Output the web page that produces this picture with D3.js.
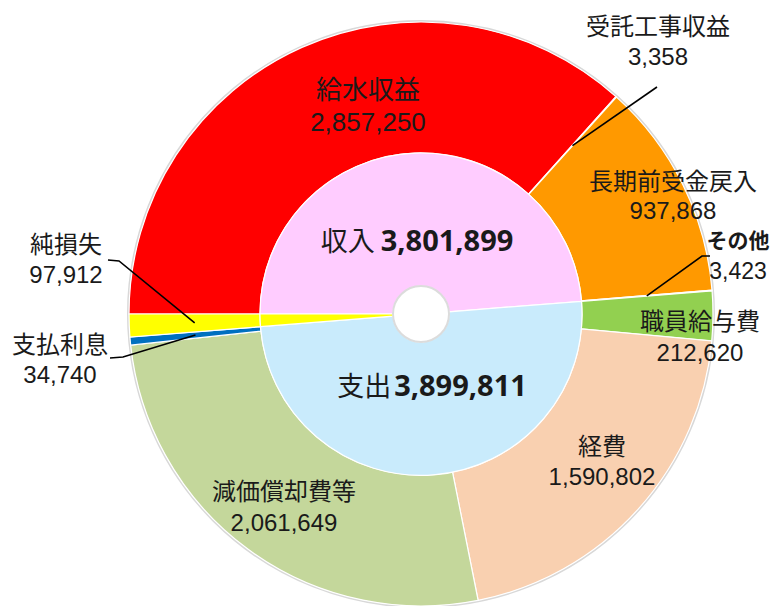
<!DOCTYPE html>
<html>
<head>
<meta charset="utf-8">
<script src="https://cdn.jsdelivr.net/npm/d3@7"></script>
<style>
  body { margin: 0; background: #fff; }
  text { font-family: "Liberation Sans", Arial, "Noto Sans CJK JP", sans-serif; fill: #1a1a1a; }
</style>
</head>
<body>
<script>
// 収支 doughnut: outer ring = details, inner ring = totals

// outer ring (clockwise from 9 o'clock)
var outerNames  = ["給水収益", "受託工事収益", "長期前受金戻入", "その他", "職員給与費", "経費", "減価償却費等", "支払利息", "純損失"];
var outerValues = [2857250, 3358, 937868, 3423, 212620, 1590802, 2061649, 34740, 97912];
var outerColors = ["#ff0000", "#ff9900", "#ff9900", "#ff9900", "#92d050", "#f9d0b0", "#c4d79b", "#0070c0", "#ffff00"];

// inner ring
var innerNames  = ["収入", "支出", "純損失"];
var innerValues = [3801899, 3899811, 97912];
var innerColors = ["#ffccff", "#c9ebfc", "#ffff00"];

var width = 779, height = 606;
var cx = 421, cy = 314;
var rHole = 28, rMid = 161, rOut = 292;

var fmt = d3.format(",");

var svg = d3.select("body").append("svg")
    .attr("width", width)
    .attr("height", height);

var g = svg.append("g")
    .attr("transform", "translate(" + cx + "," + cy + ")");

var pie = d3.pie()
    .sort(null)
    .value(function(d) { return d; })
    .startAngle(-Math.PI / 2)
    .endAngle(Math.PI * 1.5);

var outerArc = d3.arc().innerRadius(rMid).outerRadius(rOut);
var innerArc = d3.arc().innerRadius(rHole).outerRadius(rMid);

var outerPie = pie(outerValues);
var innerPie = pie(innerValues);

// faint shadow ring
g.append("circle")
    .attr("r", rOut + 1)
    .attr("fill", "none")
    .attr("stroke", "#d8d8d8")
    .attr("stroke-width", 2);

g.selectAll(".outer")
    .data(outerPie)
    .enter().append("path")
    .attr("class", "outer")
    .attr("d", outerArc)
    .attr("fill", function(d, i) { return outerColors[i]; })
    .attr("stroke", "#fff")
    .attr("stroke-width", 1.2);

g.selectAll(".inner")
    .data(innerPie)
    .enter().append("path")
    .attr("class", "inner")
    .attr("d", innerArc)
    .attr("fill", function(d, i) { return innerColors[i]; })
    .attr("stroke", "#fff")
    .attr("stroke-width", 1.2);

// hole edge
g.append("circle")
    .attr("r", rHole)
    .attr("fill", "#fff")
    .attr("stroke", "#dcdcdc")
    .attr("stroke-width", 2);

// label layout for outer ring (label centre, font size)
var labelPos = {
    "給水収益":     {x: 368, y: 90,  size: 26, gap: 32},
    "受託工事収益": {x: 658, y: 27,  size: 24, gap: 30},
    "長期前受金戻入": {x: 673, y: 182, size: 24, gap: 29},
    "その他":       {x: 738, y: 241, size: 21, gap: 30},
    "職員給与費":   {x: 700, y: 322, size: 24, gap: 31},
    "経費":         {x: 602, y: 447, size: 24, gap: 30},
    "減価償却費等": {x: 284, y: 492, size: 24, gap: 31},
    "支払利息":     {x: 60,  y: 345, size: 24, gap: 30},
    "純損失":       {x: 66,  y: 245, size: 24, gap: 30}
};

outerNames.forEach(function(name, i) {
    var p = labelPos[name];
    var t = svg.append("text")
        .attr("text-anchor", "middle")
        .style("font-size", p.size + "px");
    t.append("tspan")
        .attr("x", p.x)
        .attr("y", p.y)
        .attr("dy", "0.35em")
        .style("font-weight", name == "その他" ? "bold" : "normal")
        .text(name);
    t.append("tspan")
        .attr("x", p.x)
        .attr("y", p.y + p.gap)
        .attr("dy", "0.35em")
        .style("font-size", name == "その他" ? "23px" : null)
        .text(fmt(outerValues[i]));
});

// leader lines for thin slices, ending at the slice centroid
var leaderStart = {
    "受託工事収益": [[657, 87]],
    "その他":       [[710, 256], [702, 256]],
    "純損失":       [[108, 260], [119, 261]],
    "支払利息":     [[110, 358], [123, 357]]
};

outerNames.forEach(function(name, i) {
    if (!leaderStart[name]) return;
    var c = outerArc.centroid(outerPie[i]);
    var pts = leaderStart[name].concat([[cx + c[0], cy + c[1]]]);
    svg.append("path")
        .attr("d", d3.line()(pts))
        .attr("fill", "none")
        .attr("stroke", "#000")
        .attr("stroke-width", 1.6);
});

// inner ring totals
var innerLabelPos = [{x: 417, y: 245}, {x: 432, y: 390}];
innerLabelPos.forEach(function(p, i) {
    var t = svg.append("text")
        .attr("x", p.x)
        .attr("y", p.y)
        .attr("dy", "0.35em")
        .attr("text-anchor", "middle");
    t.append("tspan")
        .style("font-family", "'Noto Sans CJK JP', sans-serif")
        .style("font-size", "27px")
        .text(innerNames[i] + (i == 0 ? " " : ""));
    t.append("tspan")
        .style("font-family", "'Noto Sans', 'Open Sans', sans-serif")
        .style("font-weight", "bold")
        .style("font-size", "29px")
        .attr("dx", i == 0 ? 0 : 3)
        .text(fmt(innerValues[i]));
});
</script>
</body>
</html>
